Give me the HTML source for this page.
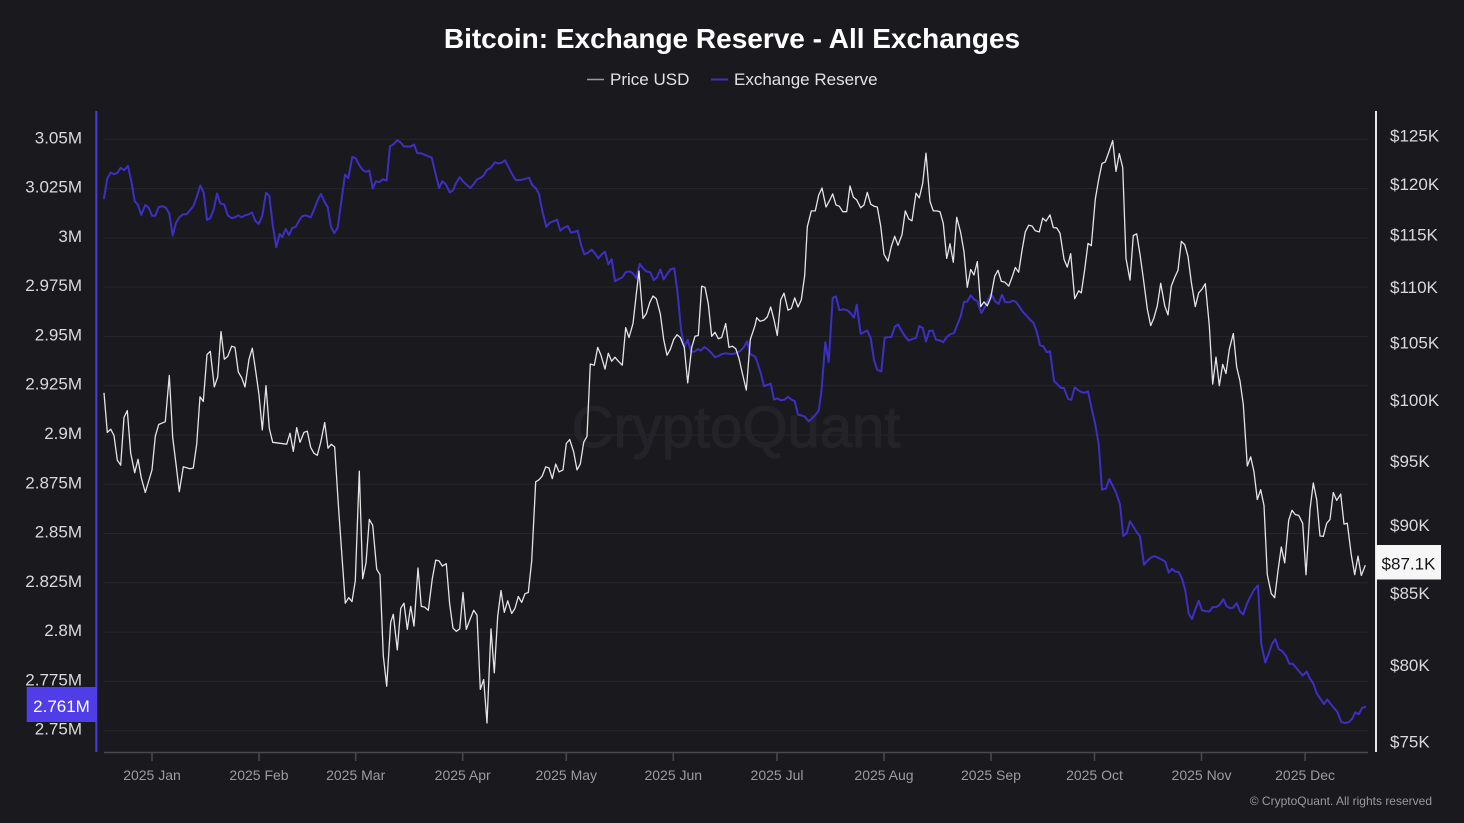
<!DOCTYPE html>
<html>
<head>
<meta charset="utf-8">
<style>
html,body{margin:0;padding:0;background:#1a191e;width:1464px;height:823px;overflow:hidden;}
svg{display:block;font-family:"Liberation Sans",sans-serif;}
</style>
</head>
<body>
<svg width="1464" height="823" viewBox="0 0 1464 823" xmlns="http://www.w3.org/2000/svg">
<rect x="0" y="0" width="1464" height="823" fill="#1a191e"/>

<!-- Title & legend -->
<text x="732" y="48" text-anchor="middle" font-size="28" font-weight="bold" fill="#ffffff">Bitcoin: Exchange Reserve - All Exchanges</text>
<line x1="587" y1="79.5" x2="604" y2="79.5" stroke="#9a9a9a" stroke-width="1.5"/>
<text x="610" y="85" font-size="17" fill="#e2e2e2">Price USD</text>
<line x1="711" y1="79.5" x2="728" y2="79.5" stroke="#3e2fc4" stroke-width="2"/>
<text x="734" y="85" font-size="17" fill="#e2e2e2">Exchange Reserve</text>

<!-- Gridlines -->
<g stroke="#27262c" stroke-width="1">
<line x1="104" y1="139.3" x2="1368" y2="139.3"/>
<line x1="104" y1="188.6" x2="1368" y2="188.6"/>
<line x1="104" y1="237.9" x2="1368" y2="237.9"/>
<line x1="104" y1="287.1" x2="1368" y2="287.1"/>
<line x1="104" y1="336.4" x2="1368" y2="336.4"/>
<line x1="104" y1="385.7" x2="1368" y2="385.7"/>
<line x1="104" y1="435.0" x2="1368" y2="435.0"/>
<line x1="104" y1="484.3" x2="1368" y2="484.3"/>
<line x1="104" y1="533.5" x2="1368" y2="533.5"/>
<line x1="104" y1="582.8" x2="1368" y2="582.8"/>
<line x1="104" y1="632.1" x2="1368" y2="632.1"/>
<line x1="104" y1="681.4" x2="1368" y2="681.4"/>
<line x1="104" y1="730.7" x2="1368" y2="730.7"/>
</g>

<!-- Watermark -->
<text x="736" y="447" text-anchor="middle" font-size="58" fill="#242329" stroke="#242329" stroke-width="1.2">CryptoQuant</text>

<!-- Left axis labels -->
<g font-size="17" fill="#d9d9d9" text-anchor="end">
<text x="82" y="143.3">3.05M</text>
<text x="82" y="192.6">3.025M</text>
<text x="82" y="241.9">3M</text>
<text x="82" y="291.1">2.975M</text>
<text x="82" y="340.4">2.95M</text>
<text x="82" y="389.7">2.925M</text>
<text x="82" y="439.0">2.9M</text>
<text x="82" y="488.3">2.875M</text>
<text x="82" y="537.5">2.85M</text>
<text x="82" y="586.8">2.825M</text>
<text x="82" y="636.1">2.8M</text>
<text x="82" y="685.4">2.775M</text>
<text x="82" y="734.7">2.75M</text>
</g>

<!-- Right axis labels -->
<g font-size="17" fill="#d9d9d9">
<text x="1390" y="141.5">$125K</text>
<text x="1390" y="189.9">$120K</text>
<text x="1390" y="240.4">$115K</text>
<text x="1390" y="293.1">$110K</text>
<text x="1390" y="348.3">$105K</text>
<text x="1390" y="406.2">$100K</text>
<text x="1390" y="467.1">$95K</text>
<text x="1390" y="531.2">$90K</text>
<text x="1390" y="599.1">$85K</text>
<text x="1390" y="671.0">$80K</text>
<text x="1390" y="747.5">$75K</text>
</g>

<!-- Axes -->
<line x1="96.3" y1="111" x2="96.3" y2="752" stroke="#4b3be0" stroke-width="2"/>
<line x1="1376" y1="111" x2="1376" y2="752" stroke="#e8e8e8" stroke-width="2"/>
<line x1="104" y1="752.5" x2="1368" y2="752.5" stroke="#4a4950" stroke-width="1.5"/>
<g stroke="#4a4950" stroke-width="1.5">
<line x1="152" y1="752" x2="152" y2="761"/>
<line x1="259" y1="752" x2="259" y2="761"/>
<line x1="355.7" y1="752" x2="355.7" y2="761"/>
<line x1="462.7" y1="752" x2="462.7" y2="761"/>
<line x1="566.3" y1="752" x2="566.3" y2="761"/>
<line x1="673.3" y1="752" x2="673.3" y2="761"/>
<line x1="777" y1="752" x2="777" y2="761"/>
<line x1="884" y1="752" x2="884" y2="761"/>
<line x1="991" y1="752" x2="991" y2="761"/>
<line x1="1094.5" y1="752" x2="1094.5" y2="761"/>
<line x1="1201.5" y1="752" x2="1201.5" y2="761"/>
<line x1="1305.1" y1="752" x2="1305.1" y2="761"/>
</g>
<g font-size="14" fill="#9c9c9c" text-anchor="middle">
<text x="152" y="780">2025 Jan</text>
<text x="259" y="780">2025 Feb</text>
<text x="355.7" y="780">2025 Mar</text>
<text x="462.7" y="780">2025 Apr</text>
<text x="566.3" y="780">2025 May</text>
<text x="673.3" y="780">2025 Jun</text>
<text x="777" y="780">2025 Jul</text>
<text x="884" y="780">2025 Aug</text>
<text x="991" y="780">2025 Sep</text>
<text x="1094.5" y="780">2025 Oct</text>
<text x="1201.5" y="780">2025 Nov</text>
<text x="1305.1" y="780">2025 Dec</text>
</g>

<!-- Exchange Reserve series -->
<polyline fill="none" stroke="#3e2fc4" stroke-width="2" stroke-linejoin="round" stroke-linecap="round" points="104,198.3 107.3,178.5 110.7,172.6 114,174.2 117.3,173 120.7,167.8 124,170.2 128,165.9 131.7,183.3 134.7,201.1 138,205 141.3,214.9 145.3,205 148.7,207.8 152,215.7 155.3,215.7 158.7,207 162.7,206.2 166,207.8 169.3,213.7 172.7,235.5 176,222.8 179.3,217.3 182.7,214.5 186.7,214.1 190,210.2 193.3,206.2 196.7,197.1 200.3,185.6 203.7,192.8 207,220 210.3,218.1 213.7,209.4 217,193.5 220.3,203.4 224.3,204.6 227.7,215.3 231.7,218.1 235,217.3 238.3,215.3 241.7,217.3 245,215.3 248.3,214.5 252,212.5 255.3,220.8 258.7,224 262.3,215.7 266,192.8 269.3,195.9 272.7,224.8 276.3,247.3 279.7,233.9 282.3,237 285.7,229.1 289,235.1 292.3,227.9 295.7,226.8 299,220.8 302.3,216.1 305.7,215.3 310.7,217.3 314.3,209 317.7,199.9 321,193.9 324.3,201.5 327.7,207.4 331,226.8 334.3,233.1 337.7,227.6 341,203.8 345,174.6 348.3,178.1 352.3,156.8 355.7,158.4 359,164.7 362.3,169.4 365.7,171.8 369.3,170.6 372.7,188.4 376,181.3 379.3,182.1 382.7,179.3 386.7,180.5 390,146.1 393.3,144.5 397.3,140.2 400.7,142.5 404,146.5 407.3,146.5 410.7,146.5 414,144.5 417.3,153.2 420.7,153.2 424,154.4 428.3,156.4 431.7,157.6 439,188 442.3,181.3 445.7,184.1 449.7,192.4 453,190.4 456.3,182.5 459.7,177.3 463,181.3 466.3,184.5 470.3,188 473.7,184.1 477,179.3 480.3,178.1 483.7,175.4 487,169.8 490.3,168.2 495,162.3 498.3,163.5 501.7,162.7 505,160.3 508.3,166.7 511.7,173.4 515.7,180.1 519.7,180.1 523.7,179.3 529,177.7 532.3,185.2 535.7,188 539,193.9 542.3,210.9 546.3,226.8 549.7,222.8 553.7,221.2 557,219.6 560.3,230.7 563.7,227.9 567.7,226 571,232.7 574.3,231.9 577.7,230.7 581,244.6 584.3,254.4 588.3,252.5 591.7,249.7 595.7,254.4 598.3,258.4 601.7,254.4 605,251.7 608.3,264.3 611.7,259.2 615,281.3 618.3,279.4 622.3,277.4 625.7,272.2 629.7,271.4 633,273.4 636.3,278.2 639.7,263.9 643,268.3 646.3,271.4 650.3,272.2 653.7,280.1 657,277.4 660.3,269.5 663.7,279.4 667,274.2 670.3,269.5 674.3,268.3 677.7,294 681,329.6 684.3,347.4 687.7,339.8 691,351.3 694.3,351.7 697.7,349.3 701,350.5 704.3,347 707.7,349.3 711,352.5 715,357.2 718.3,356.1 721.7,354.1 725.7,353.3 731,354.1 736.3,353.3 740.3,350.9 743.7,347.4 747,341.4 750.3,354.1 755,356.5 757.3,362 760.7,373.1 764,386.1 767.3,384.9 770.7,383.7 774,399.6 777.3,398.4 780.7,400.3 784.7,399.6 788,396.8 791.3,399.6 794.7,401.1 798,414.6 801.3,415.4 804.7,416.6 808.7,421.3 812,418.5 815.3,415 818.7,410.6 821.3,392.8 825.3,342.2 828.7,362 832.7,297.9 836,296.4 839.3,310.2 843.3,309.4 847.3,310.2 850.7,313.4 854,317.7 856.7,304.7 860.7,333.9 864,332.3 867.3,330.4 870.7,338.3 874,360 877.3,369.9 881.3,371.5 884.7,337.9 888,337.1 891.3,337.1 894.7,326.8 898,324.4 901.3,330.4 905.3,336.7 908.7,340.6 912,339.1 916,337.9 919.3,326 922.7,328 926,341.4 929.3,330.8 932.7,330.8 936,339.8 939.3,340.2 943.3,342.2 946.7,337.1 950,334.3 954,333.1 957.3,324.8 960.7,316.1 964,301.9 967.3,301.5 970.7,295.2 974,299.5 977.3,301.1 981.3,313 984.7,307.4 988,299.9 991.3,294 995.3,301.5 998.7,303.9 1002,294.8 1005.3,302.3 1009.3,302.3 1012.7,300.7 1016,301.9 1019.3,306.6 1022.7,311.8 1026.7,315.7 1030,319.7 1033.3,322.5 1036.7,331.5 1040,345.4 1043.3,346.2 1046.7,352.1 1050,351.3 1054,381 1057.3,384.1 1060.7,387.7 1064,388.1 1068,398.8 1071.3,399.9 1074.7,387.3 1078,390.1 1081.3,392 1084.7,392.8 1088,391.3 1091.3,407.1 1095.3,424.5 1098.7,444.2 1102,489.7 1106,488.5 1109.3,479 1112.7,485.8 1116,492.5 1120,504.3 1123.3,536 1126.7,533.2 1130,521.3 1133.3,526.5 1136.7,532 1140,536.4 1144,564.8 1147.3,560.9 1151.3,557.3 1154.7,556.1 1158,557.7 1162,559.7 1165.3,561.7 1168.7,572.7 1172,568.8 1175.3,571.6 1178.7,572 1182,578.7 1185.3,590.5 1188.7,613.5 1192,619 1195.3,609.5 1198.7,600.8 1202,610.3 1205.3,611.1 1209.3,611.5 1212.7,607.1 1216,607.1 1219.3,605.2 1223.3,599.2 1226.7,606.4 1230,608.3 1233.3,607.5 1236.7,603.2 1240,611.5 1243.3,614.3 1246.7,604.4 1250,597.3 1254,589.8 1258,585.4 1261.3,643.9 1265.3,662.5 1268.7,653.8 1272,643.9 1275.3,639.2 1278.7,649.1 1282,651 1286,655.8 1289.3,663.7 1292.7,663.7 1296,667.6 1299.3,671.6 1302.7,675.6 1306.7,671.6 1310,678.7 1313.3,683.5 1316.7,693.3 1320.7,699.3 1324,704 1327.3,699.3 1330.7,704 1334,708 1337.3,711.9 1341.3,722.2 1345.3,723 1348.7,722.2 1352,719 1355.3,712.3 1358.7,714.3 1362,708 1365.3,706.8"/>

<!-- Price series -->
<polyline fill="none" stroke="#e4e4e4" stroke-width="1.3" stroke-linejoin="round" points="104,392.8 107.3,432.4 110.7,429.2 114,435.5 117.3,460.1 120.7,465.2 124,417.4 127.3,410.6 130.7,453.3 134.7,472.7 138,459.3 141.3,477.9 145.3,492.5 148.7,481 152,469.9 155.3,436.3 158.7,424.5 165.3,421.7 169.3,375.4 172.7,437.5 176,464 179.3,491.7 183.3,466.8 190,468.8 193.3,468 196.7,444.2 200,396.8 203.3,401.5 207,354.5 210.3,351.3 214.3,386.9 217.7,377 221,331.5 224.3,359.2 227.7,356.5 231.7,346.2 235,347.4 238.3,371.9 241.7,377.8 245,386.9 249,359.2 252.3,348.2 255.7,371.1 259,394.8 262.3,430 266,385.7 269.3,428.4 272.7,442.3 286.7,444.2 290,433.2 293.3,451.4 296.7,427.6 300,442.3 304,432.4 307.3,431.2 310.7,447.4 314,453.3 317.3,455.3 320.7,442.3 324.7,422.5 328,448.2 331.3,444.2 334.7,447 338,499.6 341.3,547 345.3,603.2 348.7,597.7 352,601.6 355.3,580.7 359.3,471.1 362.7,578.7 366,562.9 369.3,519.4 372.7,525.3 376.7,569.2 380,574.7 383.3,655.8 386.7,686.2 390.7,622.2 393.3,614.3 397.3,649.9 400.7,608.3 404,603.2 407.3,629.3 410.7,606.4 414,626.1 418,568 421.3,606.4 424.7,607.1 428.3,610.3 432.3,578.7 435.7,560.1 439,560.9 442.3,566 446.3,563.7 449.7,604.4 453,628.1 456.3,631.3 459.7,628.9 463,592.5 466.3,629.3 469.7,620.2 473.7,610.3 477,615.1 480.3,689.4 483.7,679.5 487,723 491,628.9 494.3,672.8 497.7,616.2 501,590.5 504.3,612.3 507.7,600.8 511.7,613.5 515,608.3 518.3,596.5 521.7,602.4 525,593.7 528.3,592.5 531.7,560.9 535.7,481.8 539,479.8 542.3,475.9 545.7,466.8 549,468 552.3,478.6 555.7,464 559,471.9 563,469.9 566.3,443.5 569.7,439.5 573.7,452.1 577,469.9 580.3,464 583.7,442.3 587,436.3 590.3,364 594.3,365.2 597.7,347.4 601,355.3 605,369.1 608.3,353.3 611.7,361.2 615,357.2 618.3,361.2 622.3,365.2 625.7,327.6 629,337.5 633,323.6 636.3,294 639,271 643,318.5 646.3,313.8 649.7,302.7 653,296 656.3,298.7 660.3,313.8 663.7,339.5 667,355.3 670.3,349.3 673.7,339.5 677,334.7 680.3,337.5 684.3,347.4 687.7,382.9 691.7,347.4 695,336.3 698.3,335.5 701.7,286.1 705,287.3 708.3,303.9 711.7,336.3 715,332.3 718.3,338.7 721.7,337.5 725.7,323.6 729,347.4 732.3,346.2 735.7,348.6 739,358.4 742.3,373.1 746.3,390.1 750.3,339.5 755,325.6 756.7,317.7 760,321.3 764,320.1 767.3,316.9 770.7,307 774,319.7 777.3,335.5 780.7,299.9 784,293.2 788,310.2 791.3,308.6 794.7,297.9 798,307 801.3,299.9 804.7,275.4 807.3,226.8 811.3,210.9 815.3,210.9 818.7,195.1 822,188 826,207 829.3,201.1 832.7,193.9 836,205 839.3,206.2 842.7,211.7 846.7,211.7 850,186 853.3,197.1 856.7,199.9 860.7,207.8 864,205 867.3,192.4 870.7,204.2 874,206.2 877.3,207 880.7,226 884,254.4 888,261.2 891.3,246.5 894.7,236.3 898,245.3 902,234.7 905.3,210.9 908.7,218.9 912,220.8 916,193.2 919.3,197.9 922.7,183.3 926,153.2 930,201.5 933.3,210.9 936.7,210.9 940,211.7 943.3,223.6 946.7,258.4 950,243.8 953.3,262.3 956.7,217.3 960.7,232.7 964,251.7 967.3,287.3 970.7,269.5 974,275 977.3,261.6 980.7,306.6 984,301.9 987.3,305.8 990.7,297.9 994.7,276.2 998,270.3 1001.3,281.3 1004.7,282.1 1008.7,286.1 1012,277.4 1015.3,267.5 1018.7,272.2 1022,250.5 1025.3,231.9 1028.7,225.2 1032,226 1035.3,230.7 1039.3,231.9 1042.7,218.1 1046,221.2 1050,214.9 1053.3,227.6 1056.7,227.9 1060,233.1 1064,259.2 1067.3,267.1 1070.7,253.6 1074.7,298.7 1078.7,290.8 1081.3,292.8 1084.7,269.5 1088,243.4 1091.3,245.7 1095.3,199.1 1098.7,179.3 1102,163.5 1105.3,161.9 1108.7,152.4 1112.7,140.6 1116,171.4 1119.3,153.6 1122.7,167.4 1126,258.4 1130,280.1 1133.3,235.5 1136.7,233.9 1140,254.4 1143.3,278.2 1147.3,309 1150.7,325.6 1154,317.7 1157.3,305.8 1160.7,283.3 1164.7,305.8 1168,314.9 1171.3,286.1 1174.7,277.4 1178,270.3 1181.3,241.4 1184.7,244.6 1188,256.4 1191.3,282.1 1195.3,306.6 1198.7,292.8 1202,289.2 1205.3,283.7 1209.3,325.6 1212.7,384.1 1216,357.2 1219.3,385.7 1222.7,364.4 1226,373.5 1229.3,349.3 1233.3,333.5 1236.7,367.1 1240,381 1243.3,404.7 1247.3,466 1250.7,456.9 1254,471.9 1257.3,499.6 1260.7,489.7 1264,505.5 1267.3,574.7 1271.3,593.7 1274.7,597.7 1278,570.8 1281.3,547 1284.7,562.9 1288.7,520.2 1292,510.3 1295.3,514.6 1298.7,515.4 1302.7,523.3 1306,574.7 1310,509.5 1313.3,483 1316.7,499.6 1320,536 1323.3,536.4 1326.7,523.3 1330,519.4 1333.3,492.5 1336.7,500.4 1340.7,494.1 1344,524.1 1347.3,523.3 1351.3,555 1354.7,574.7 1358,556.1 1361.3,575.5 1365.3,565.2"/>

<!-- Current value badges -->
<rect x="26.7" y="687" width="70" height="35" fill="#4f3ee8"/>
<text x="61.5" y="712" text-anchor="middle" font-size="17" fill="#ffffff">2.761M</text>
<rect x="1376" y="545" width="65" height="34.5" fill="#f6f6f6"/>
<text x="1408.5" y="569.5" text-anchor="middle" font-size="17" fill="#151419">$87.1K</text>

<!-- Footer -->
<text x="1432" y="805" text-anchor="end" font-size="12" fill="#9a9a9a">© CryptoQuant. All rights reserved</text>
</svg>
</body>
</html>
